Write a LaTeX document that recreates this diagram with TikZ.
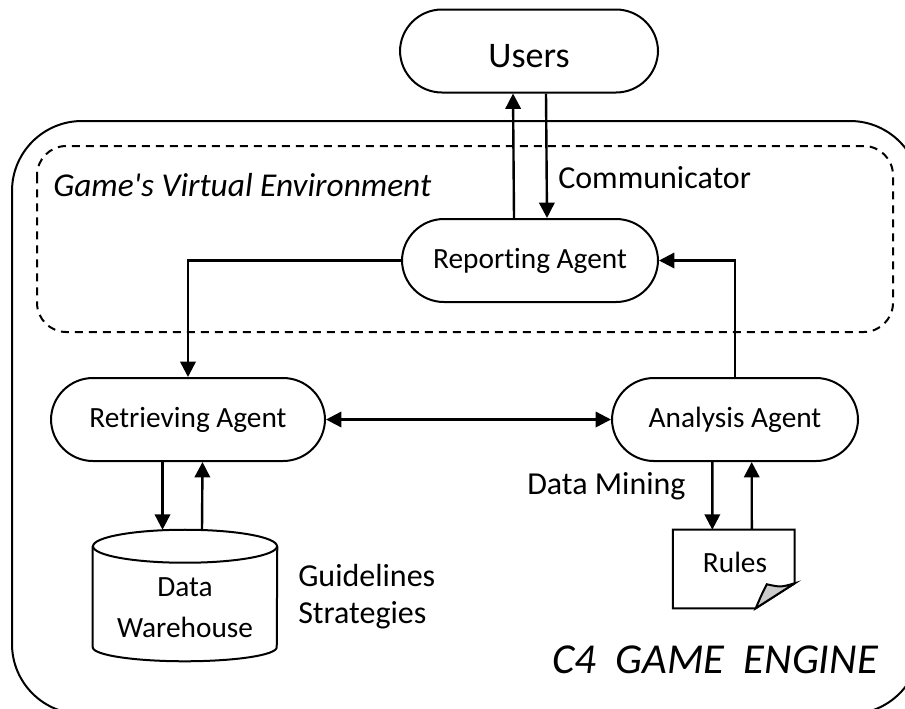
\documentclass[tikz,border=0pt]{standalone}
\usepackage{fontspec}
\setmainfont[Ligatures=NoCommon]{Carlito}
\usetikzlibrary{arrows.meta,calc}
\tikzset{
  agent/.style={draw,line width=1.5pt,rounded corners=31.5pt,minimum height=62.25pt,inner sep=0pt,font=\fontsize{22}{26}\selectfont},
  flow/.style={line width=1.8pt,-{Triangle[length=11.5pt,width=11.5pt]}},
  twoway/.style={line width=1.8pt,{Triangle[length=11.5pt,width=11.5pt]}-{Triangle[length=11.5pt,width=11.5pt]}},
  note/.style={font=\fontsize{24}{28}\selectfont,anchor=base west,inner sep=0pt},
  bound/.style={line width=1.5pt}
}
\begin{document}
\begin{tikzpicture}[x=0.75pt,y=-0.75pt]
  \useasboundingbox[clip] (0,0) rectangle (905,708);

  \draw[bound,rounded corners=52.5pt] (12,121) rectangle (920,714);
  \draw[bound,dash pattern=on 6pt off 4.5pt,rounded corners=22pt] (37,146) rectangle (893,332);
  \node[note,font=\fontsize{25}{30}\itshape\selectfont] (env) at (53,196) {Game\textquotesingle s Virtual Environment};

  \node[agent,minimum width=193.5pt,font=\fontsize{27}{32}\selectfont] (users) at (529,51) {\raisebox{-12.5pt}[0pt][0pt]{Users}};
  \node[agent,minimum width=192pt] (reporting) at (530,260.5) {Reporting Agent};
  \node[agent,minimum width=205.5pt] (retrieving) at (188,419.5) {Retrieving Agent};
  \node[agent,minimum width=184.5pt] (analysis) at (735,419.5) {Analysis Agent};

  \node[inner sep=0pt,minimum width=138pt,minimum height=98.25pt] (warehouse) at (185,595.5) {};
  \node[inner sep=0pt,align=center,font=\fontsize{22}{31}\selectfont] (warehousetext) at (185,608) {Data\\Warehouse};
  \draw[bound] ([shift={(0,16.5)}]warehouse.north west) -- ([shift={(0,-14)}]warehouse.south west)
    arc[start angle=180,end angle=0,x radius=92,y radius=14] -- ([shift={(0,16.5)}]warehouse.north east);
  \draw[bound] ([shift={(0,16.5)}]warehouse.north) ellipse [x radius=92,y radius=16.5];

  \node[inner sep=0pt,minimum width=91pt,minimum height=58.5pt] (rules) at (733.8,569) {};
  \node[inner sep=0pt,font=\fontsize{22}{26}\selectfont] (ruletext) at (735,562) {Rules};
  \draw[bound] (rules.north west) -- (rules.north east) -- ([shift={(0,-25)}]rules.south east)
    -- ([shift={(-39,0)}]rules.south east) -- (rules.south west) -- cycle;
  \draw[bound,fill=black!20] ([shift={(-39,0)}]rules.south east) .. controls ([shift={(-33,-14)}]rules.south east) .. ([shift={(-28,-24)}]rules.south east)
    .. controls ([shift={(-14,-21)}]rules.south east) .. ([shift={(0,-25)}]rules.south east) -- cycle;

  \draw[flow] ([shift={(-16,0)}]reporting.north) -- ([shift={(-16,0)}]users.south);
  \draw[flow] ([shift={(17,0)}]users.south) -- ([shift={(17,0)}]reporting.north);
  \draw[flow] (reporting.west) -| (retrieving.north);
  \draw[flow] (analysis.north) |- (reporting.east);
  \draw[twoway] (retrieving.east) -- (analysis.west);
  \draw[flow] ([shift={(-25.5,0)}]retrieving.south) -- ([shift={(-22.5,0)}]warehouse.north);
  \draw[flow] ([shift={(17,0)}]warehouse.north) -- ([shift={(14.5,0)}]retrieving.south);
  \draw[flow] ([shift={(-22.7,0)}]analysis.south) -- ([shift={(-21.5,0)}]rules.north);
  \draw[flow] ([shift={(18,0)}]rules.north) -- ([shift={(16.7,0)}]analysis.south);

  \node[note] (comm) at (558,188) {Communicator};
  \node[note] (mining) at (527,494) {Data Mining};
  \node[note] (guide) at (298,586) {Guidelines};
  \node[note] (strat) at (298,623) {Strategies};
  \node[note,font=\fontsize{32}{38}\itshape\selectfont] (engine) at (552,673) {C4~~GAME~~ENGINE};
\end{tikzpicture}
\end{document}
